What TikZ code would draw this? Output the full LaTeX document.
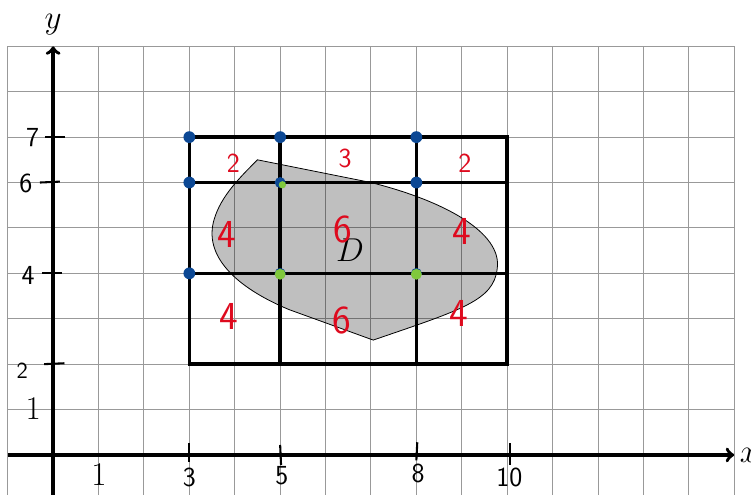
\documentclass[tikz,border=0pt]{standalone}
\usepackage{amsmath,amssymb}
\usepackage{tikz}
\usepackage{xcolor}
\usetikzlibrary{arrows,positioning,calc}

\definecolor{ptblue}{RGB}{12,72,148}
\definecolor{ptgreen}{RGB}{128,200,60}
\definecolor{numred}{RGB}{222,10,30}

\begin{document}
\begin{tikzpicture}[
            gridline/.style={draw=gray!80, line width=0.6pt},
            axis/.style={->, line width=2.2pt},
            part/.style={line width=2.2pt},
            tickmark/.style={line width=1.3pt},
            hand/.style={font=\LARGE\sffamily},
            val/.style={text=numred, font=\Huge\sffamily},
            bdot/.style={fill=ptblue},
            gdot/.style={fill=ptgreen},
            region/.style={fill=black, fill opacity=0.25, draw=black, line width=0.5pt}
        ]
            \useasboundingbox (-1.17,-0.88) rectangle (15.37,10.02);
            \clip (-1.17,-0.88) rectangle (15.37,10.02);

            % Grid
            \draw[gridline] (-1,-1) grid (15,9);

            % Region D
            \draw[region] (4.5,6.5) -- (7,6)
                .. controls (8.6,5.6) and (9.9,4.9) .. (9.78,4.1)
                .. controls (9.7,3.4) and (9.0,3.2) .. (7.05,2.53)
                -- (5.2,3.2)
                .. controls (4.0,3.7) and (3.3,4.4) .. (3.55,5.2)
                .. controls (3.7,5.7) and (4.1,6.1) .. cycle;
            \node[font=\huge] (dlabel) at (6.54,4.52) {$D$};

            % Partition
            \draw[part] (3,2) rectangle (10,7);
            \draw[part] (5,2) -- (5,7);
            \draw[part] (8,2) -- (8,7);
            \draw[part] (3,4) -- (10,4);
            \draw[part] (3,6) -- (10,6);

            % Axes
            \draw[axis] (-1,0) -- (15,0);
            \draw[axis] (0,-1) -- (0,9);
            \node[font=\huge] (ylabel) at (0,9.47) {$y$};
            \node[right, font=\huge] (xlabel) at (15,0) {$x$};
            \node[font=\huge] (xone) at (1.01,-0.44) {1};
            \node[font=\huge] (yone) at (-0.44,1.03) {1};

            % Ticks on y
            \draw[tickmark] (-0.18,7) -- (0.26,7);
            \draw[tickmark] (-0.29,6) -- (0.15,6.02);
            \draw[tickmark] (-0.25,4) -- (0.2,4);
            \draw[tickmark] (-0.2,2) -- (0.25,2.02);
            \node[hand] (ysev) at (-0.45,7) {7};
            \node[hand] (ysix) at (-0.6,5.99) {6};
            \node[hand] (yfour) at (-0.55,3.95) {4};
            \node[hand, font=\Large\sffamily] (ytwo) at (-0.68,1.85) {2};

            % Ticks on x
            \draw[tickmark] (3,0.26) -- (3,-0.15);
            \draw[tickmark] (5,0.22) -- (5.02,-0.22);
            \draw[tickmark] (8.02,0.28) -- (8,-0.12);
            \draw[tickmark] (10.07,0.26) -- (10.07,-0.22);
            \node[hand] (xthr) at (3,-0.5) {3};
            \node[hand] (xfiv) at (5.04,-0.45) {5};
            \node[hand] (xeig) at (8.04,-0.4) {8};
            \node[hand] (xten) at (10.05,-0.5) {10};

            % Values
            \node[val, font=\LARGE\sffamily] (va) at (3.97,6.42) {2};
            \node[val, font=\LARGE\sffamily] (vb) at (6.43,6.53) {3};
            \node[val, font=\LARGE\sffamily] (vc) at (9.07,6.42) {2};
            \node[val] (vd) at (3.83,4.85) {4};
            \node[val] (ve) at (6.39,4.96) {6};
            \node[val] (vf) at (9.0,4.92) {4};
            \node[val] (vg) at (3.86,3.05) {4};
            \node[val] (vh) at (6.36,2.97) {6};
            \node[val] (vi) at (8.93,3.12) {4};

            % Sample points
            \fill[bdot] (3,7) circle (0.13);
            \fill[bdot] (5,7) circle (0.13);
            \fill[bdot] (8,7) circle (0.13);
            \fill[bdot] (3,6) circle (0.13);
            \fill[bdot] (8,6) circle (0.13);
            \fill[bdot] (3,4) circle (0.13);
            \fill[bdot] (5,6) circle (0.12);
            \fill[bdot] (5,4) circle (0.12);
            \fill[bdot] (8,4) circle (0.12);
            \fill[gdot] (5.05,5.95) circle (0.08);
            \fill[gdot] (5,3.98) circle (0.12);
            \fill[gdot] (8,3.98) circle (0.12);
        \end{tikzpicture}
\end{document}
